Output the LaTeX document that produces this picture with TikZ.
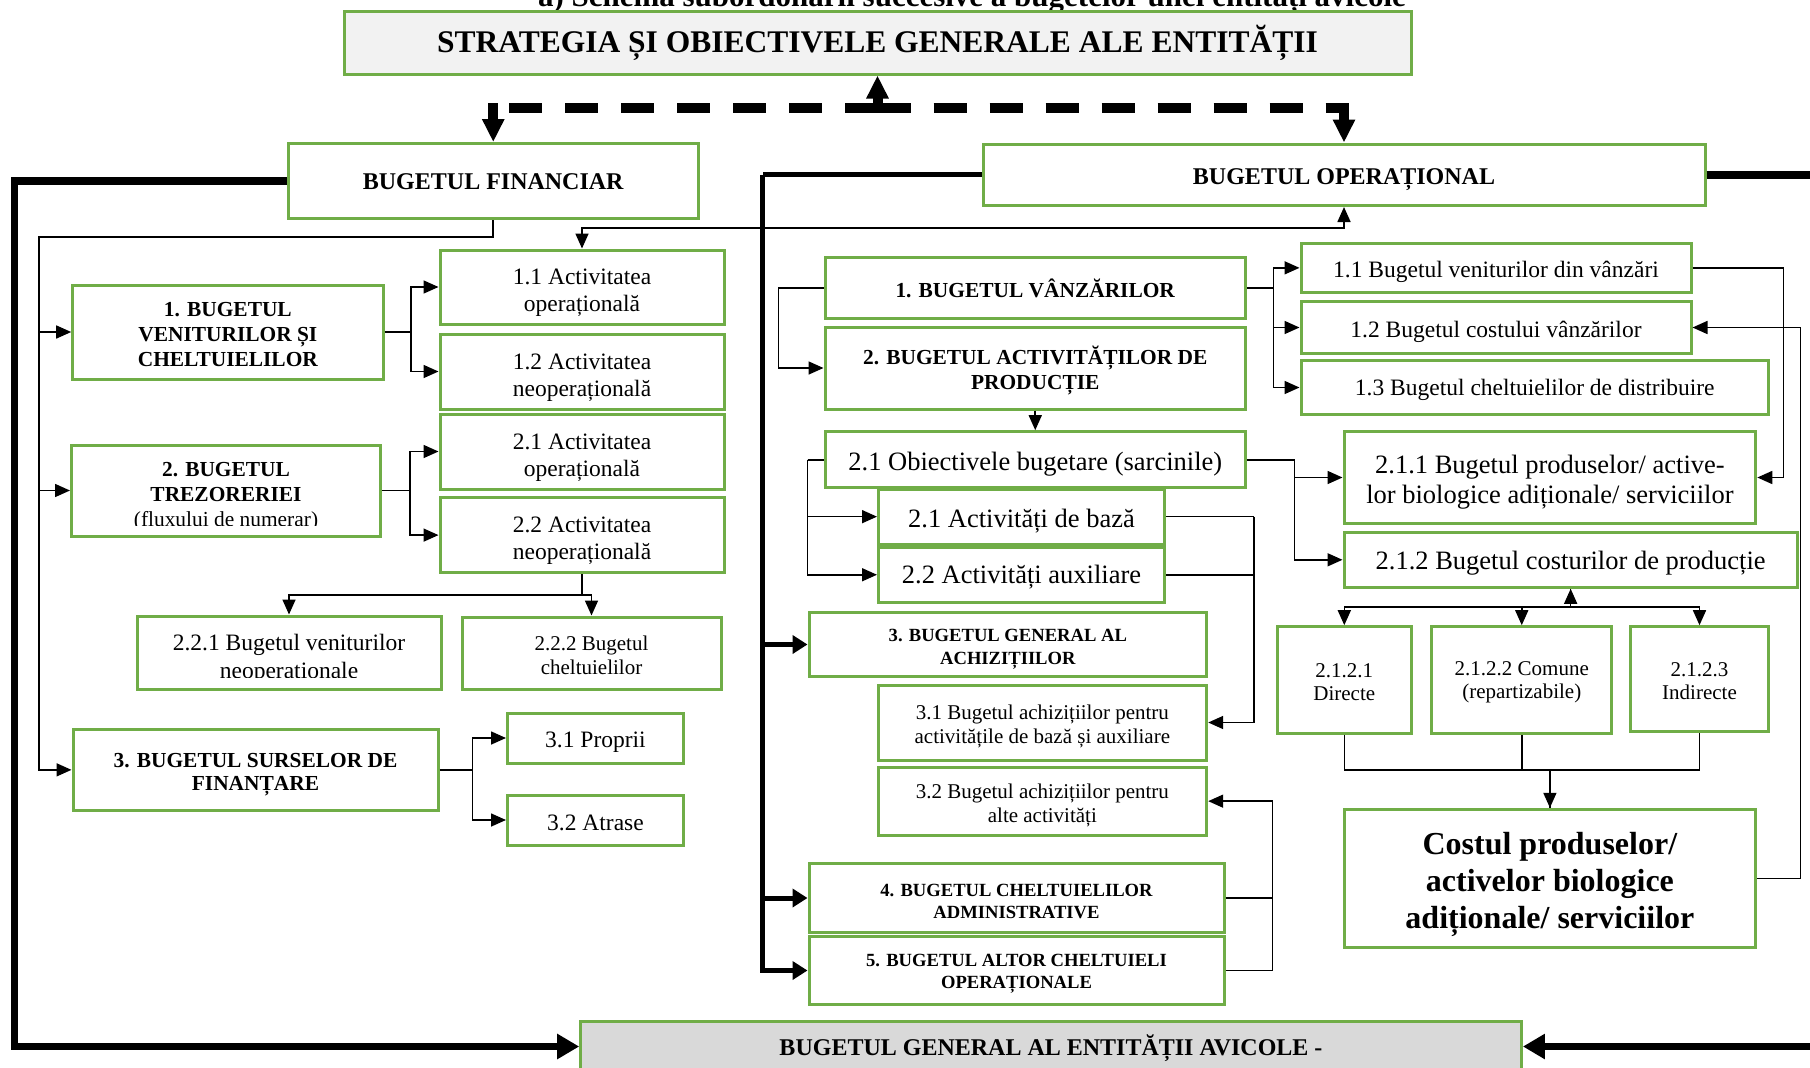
\documentclass[tikz,border=0pt]{standalone}
\usepackage{fontspec}
\setmainfont{Liberation Serif}
\usetikzlibrary{arrows.meta,calc}
\definecolor{boxgreen}{HTML}{70AD47}
\definecolor{topfill}{HTML}{F2F2F2}
\definecolor{botfill}{HTML}{D9D9D9}
% box given by its corners, with its text set as a separate node:
% [box style]{name}{x1}{y1}{x2}{y2}{text style}{text}
\newcommand{\boxat}[8][]{%
  \node[gbox,#1,minimum width={(#5)-(#3)},minimum height={(#6)-(#4)}] (#2) at ({((#3)+(#5))/2},{((#4)+(#6))/2}) {};
  \node[btext,#7] (#2-t) at (#2.center) {#8};}
\tikzset{
  gbox/.style={draw=boxgreen,line width=3pt,fill=white,inner sep=0pt},
  btext/.style={inner sep=0pt,align=center},
  txt/.style={inner sep=0pt,anchor=base},
  fTop/.style={font=\bfseries\fontsize{31.5}{36}\selectfont},
  fH/.style={font=\bfseries\fontsize{24}{28}\selectfont},
  fL/.style={font=\bfseries\fontsize{21.4}{25}\selectfont},
  fLr/.style={font=\fontsize{21.4}{25}\selectfont},
  fN/.style={font=\fontsize{23.5}{27}\selectfont},
  fB/.style={font=\fontsize{26.5}{30}\selectfont},
  fS/.style={font=\fontsize{21}{24}\selectfont},
  fSB/.style={font=\bfseries\fontsize{18.6}{22.7}\selectfont},
  fC/.style={font=\bfseries\fontsize{32}{37}\selectfont},
  ln/.style={line width=1.6pt},
  ta/.style={-{Triangle[length=15pt,width=13pt]}},
  tb/.style={{Triangle[length=15pt,width=13pt]}-{Triangle[length=15pt,width=13pt]}},
  midln/.style={line width=5pt},
  ma/.style={-{Triangle[length=15pt,width=18pt]}},
  bigln/.style={line width=7.5pt},
  ba/.style={-{Triangle[length=22pt,width=24pt]}},
  dashln/.style={line width=10pt,dash pattern=on 33pt off 23pt},
  stubln/.style={line width=10pt,line cap=rect},
  da/.style={-{Triangle[length=23pt,width=21pt]}},
}
\begin{document}
\begin{tikzpicture}[x=1pt,y=-1pt]
\useasboundingbox (0,0) rectangle (1810,1068);
\clip (0,0) rectangle (1810,1068);
\fill[white] (0,0) rectangle (1810,1068);

% heading above the scheme
\node[txt,font=\bfseries\fontsize{31}{35}\selectfont] (head) at (972,6.5)
  {a) Schema subordonării succesive a bugetelor unei entități avicole};

% ---------- top level ----------
\boxat[fill=topfill]{top}{344}{11}{1411}{74}{fTop}{STRATEGIA ȘI OBIECTIVELE GENERALE ALE ENTITĂȚII}
\boxat{bf}{288.5}{143.5}{698}{218.5}{fH,yshift=-1pt}{BUGETUL FINANCIAR}
\boxat{bo}{983}{144}{1705}{205.5}{fH,yshift=-4.5pt}{BUGETUL OPERAȚIONAL}

% ---------- financial budget ----------
\boxat{f1}{72.7}{285}{383}{379}{fL,yshift=-2.5pt}{1. BUGETUL\\VENITURILOR ȘI\\CHELTUIELILOR}
\boxat{a11}{440}{250}{724}{324}{fN,yshift=-6pt}{1.1 Activitatea\\operațională}
\boxat{a12}{440}{334}{724}{409}{fN,yshift=-6pt}{1.2 Activitatea\\neoperațională}
\node[gbox,minimum width=309pt,minimum height=91pt] (f2) at (226,490.5) {};
\begin{scope}
  \clip (73,446.5) rectangle (379,525.5);
  \node[txt,fL] (f2a) at (226,476.7) {2. BUGETUL};
  \node[txt,fL] (f2b) at (226,501.7) {TREZORERIEI};
  \node[txt,fLr] (f2c) at (226,526.7) {(fluxului de numerar)};
\end{scope}
\boxat{a21}{440}{414}{724}{489}{fN,yshift=-6pt}{2.1 Activitatea\\operațională}
\boxat{a22}{440}{497.7}{724}{572.5}{fN,yshift=-6pt}{2.2 Activitatea\\neoperațională}
\node[gbox,minimum width=304pt,minimum height=73pt] (b221) at (289,652.5) {};
\begin{scope}
  \clip (138.5,617.5) rectangle (439.5,677.5);
  \node[txt,fN] (b221a) at (289,650) {2.2.1 Bugetul veniturilor};
  \node[txt,fN] (b221b) at (289,678) {neoperaționale};
\end{scope}
\boxat{b222}{462}{617}{721}{689}{fS,yshift=-2pt}{2.2.2 Bugetul\\cheltuielilor}
\boxat{f3}{73}{729}{438}{810.7}{font=\bfseries\fontsize{21.4}{23.5}\selectfont,yshift=-5pt}{3. BUGETUL SURSELOR DE\\FINANȚARE}
\boxat{p31}{507.5}{713}{683.5}{763}{fN,yshift=-4pt}{3.1 Proprii}
\boxat{p32}{507.5}{795}{683.5}{845}{fN,yshift=-2.5pt}{3.2 Atrase}

% ---------- operational budget ----------
\boxat{o1}{825}{257.7}{1245.5}{318.3}{fL}{1. BUGETUL VÂNZĂRILOR}
\boxat{o2}{825}{327}{1245.5}{409}{fL,yshift=-2.5pt}{2. BUGETUL ACTIVITĂȚILOR DE\\PRODUCȚIE}
\boxat{v11}{1301}{243}{1691}{292.7}{fN,yshift=-4pt}{1.1 Bugetul veniturilor din vânzări}
\boxat{v12}{1301}{301.7}{1691}{353.3}{fN,yshift=-4pt}{1.2 Bugetul costului vânzărilor}
\boxat{v13}{1301}{360.7}{1768.5}{414.3}{fN,yshift=-2.5pt}{1.3 Bugetul cheltuielilor de distribuire}
\boxat{ob}{825}{431.7}{1245.5}{487.7}{fB,yshift=-4pt}{2.1 Obiectivele bugetare (sarcinile)}
\boxat{ab}{878.5}{489}{1164.5}{544.3}{fB,yshift=-4pt}{2.1 Activități de bază}
\boxat{aa}{878.5}{547}{1164.5}{602.5}{fB,yshift=-2.5pt}{2.2 Activități auxiliare}
\boxat{p211}{1344}{431.7}{1755.8}{523.3}{fB,yshift=-4.5pt}{2.1.1 Bugetul produselor/ active-\\lor biologice adiționale/ serviciilor}
\boxat{p212}{1344}{532.3}{1797.3}{587.3}{fB,yshift=-3.5pt}{2.1.2 Bugetul costurilor de producție}
\boxat{g3}{809}{612.3}{1206.7}{676.7}{fSB,yshift=-4.5pt}{3. BUGETUL GENERAL AL\\ACHIZIȚIILOR}
\boxat{g31}{878}{685}{1206.7}{760}{fS,yshift=-4pt}{3.1 Bugetul achizițiilor pentru\\activitățile de bază și auxiliare}
\boxat{g32}{878}{767.3}{1206.7}{835}{fS,yshift=-4.5pt}{3.2 Bugetul achizițiilor pentru\\alte activități}
\boxat{g4}{809}{863.3}{1224}{932.7}{fSB,yshift=-3.5pt}{4. BUGETUL CHELTUIELILOR\\ADMINISTRATIVE}
\boxat{g5}{809}{936.7}{1224}{1004.3}{font=\bfseries\fontsize{18.6}{21.7}\selectfont,yshift=-3.5pt}{5. BUGETUL ALTOR CHELTUIELI\\OPERAȚIONALE}
\boxat{c1}{1277}{626.7}{1411.6}{733.3}{font=\fontsize{21}{23.3}\selectfont,yshift=-2pt}{2.1.2.1\\Directe}
\boxat{c2}{1431.7}{626.7}{1611.8}{733.3}{font=\fontsize{21}{23.3}\selectfont,yshift=-2.5pt}{2.1.2.2 Comune\\(repartizabile)}
\boxat{c3}{1630.5}{626.7}{1768.5}{731.7}{font=\fontsize{21}{23.3}\selectfont,yshift=-2pt}{2.1.2.3\\Indirecte}
\boxat{cost}{1344}{809.3}{1755.8}{947.7}{fC,yshift=-6pt}{Costul produselor/\\activelor biologice\\adiționale/ serviciilor}

% ---------- general budget ----------
\node[gbox,fill=botfill,minimum width=940.7pt,minimum height=49.6pt] (bot) at (1051.05,1046.5) {};
\node[txt,fH] (bott) at (1051,1055.5) {BUGETUL GENERAL AL ENTITĂȚII AVICOLE -};

% ---------- dashed links from the strategy ----------
\coordinate (dl) at (493.25,108);
\coordinate (dm) at (877.5,108);
\coordinate (dr) at (1344,108);
\draw[dashln] (dm) -- (dl);
\draw[dashln] (dm) -- (dr);
\draw[stubln,da] (dm) -- (top.south);
\draw[stubln,da] (dl) -- (bf.north);
\draw[stubln,da] (dr) -- (bo.north);

% ---------- outer frame into the general budget ----------
\draw[bigln,ba] (bf.west) -- ++(-272.5,0) |- (bot.west);
\draw[bigln,ba] (bo.east) -- ++(130,0) |- (bot.east);

% ---------- financial connectors ----------
\coordinate (fL) at (39,237);
\draw[ln,ta] (bf.south) |- (fL) |- (f3.west);
\draw[ln,ta] (fL |- f1.west) -- (f1.west);
\draw[ln,ta] (fL |- f2.west) -- (f2.west);
\draw[ln,tb] (a11.north) |- ($(bo.south)+(0,21)$) -- (bo.south);

\draw[ln] (f1.east) -- ++(26.5,0) coordinate (j1);
\draw[ln,ta] (j1) |- (a11.west);
\draw[ln,ta] (j1) |- (a12.west);
\draw[ln] (f2.east) -- ++(28,0) coordinate (j2);
\draw[ln,ta] (j2) |- (a21.west);
\draw[ln,ta] (j2) |- (a22.west);
\draw[ln] (a22.south) -- ++(0,21) coordinate (j3);
\draw[ln,ta] (j3) -| (b221.north);
\draw[ln,ta] (j3) -| (b222.north);
\draw[ln] (f3.east) -- ++(33,0) coordinate (j4);
\draw[ln,ta] (j4) |- (p31.west);
\draw[ln,ta] (j4) |- (p32.west);

% ---------- operational connectors ----------
\draw[midln] (bo.west) -- ++(-219,0) coordinate (oL);
\draw[midln,ma] (oL) |- (g5.west);
\draw[midln,ma] (oL |- g3.west) -- (g3.west);
\draw[midln,ma] (oL |- g4.west) -- (g4.west);

\draw[ln,ta] (o1.west) -- ++(-45,0) |- (o2.west);
\draw[ln] (o1.east) -- ++(26.5,0) coordinate (k1);
\draw[ln,ta] (k1) |- (v11.west);
\draw[ln,ta] (k1) |- (v12.west);
\draw[ln,ta] (k1) |- (v13.west);
\draw[ln,ta] (v11.east) -- ++(91,0) |- (p211.east);
\draw[ln,ta] (cost.east) -- ++(43,0) |- (v12.east);
\draw[ln,ta] (o2.south) -- (ob.north);

\draw[ln] (ob.west) -- ++(-16,0) coordinate (k2);
\draw[ln,ta] (k2) |- (ab.west);
\draw[ln,ta] (k2) |- (aa.west);
\draw[ln] (ob.east) -- ++(47.5,0) coordinate (k3);
\draw[ln,ta] (k3) |- (p211.west);
\draw[ln,ta] (k3) |- (p212.west);

\draw[ln] (ab.east) -- ++(88,0) coordinate (k4);
\draw[ln] (aa.east) -- (k4 |- aa.east);
\draw[ln,ta] (k4) |- (g31.east);
\draw[ln] (g4.east) -- ++(47,0) coordinate (k5);
\draw[ln,ta] (g5.east) -| (k5) |- (g32.east);

% ---------- production cost tree ----------
\draw[ln] (p212.south) -- ++(0,18) coordinate (k6);
\draw[ln,ta] (k6) -- (p212.south);
\draw[ln,ta] (k6) -| (c1.north);
\draw[ln,ta] (k6) -| (c3.north);
\draw[ln,ta] (c2.north |- k6) -- (c2.north);
\draw[ln] (cost.north) -- ++(0,-38) coordinate (k7);
\draw[ln] (c1.south) |- (k7);
\draw[ln] (c3.south) |- (k7);
\draw[ln] (c2.south) -- (c2.south |- k7);
\draw[ln,ta] (k7) -- (cost.north);
\end{tikzpicture}
\end{document}
